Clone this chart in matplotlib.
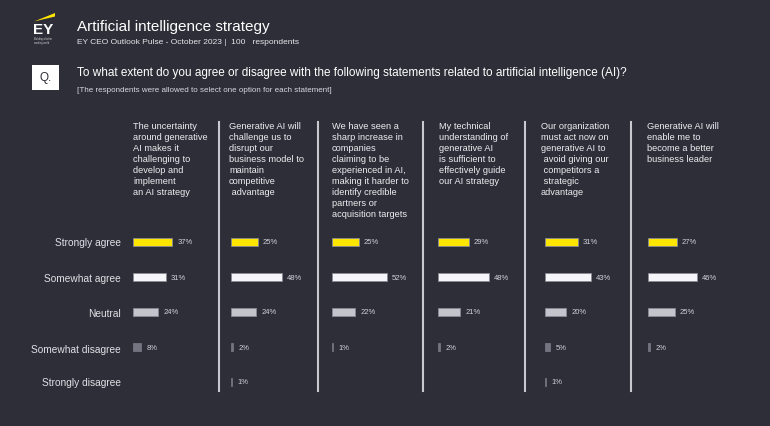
import matplotlib.pyplot as plt
from matplotlib.patches import Rectangle, Polygon

plt.rcParams['font.family'] = ['Liberation Sans', 'DejaVu Sans']

# Data
statements = [
    "The uncertainty\naround generative\nAI makes it\nchallenging to\ndevelop and\nimplement\nan AI strategy",
    "Generative AI will\nchallenge us to\ndisrupt our\nbusiness model to\nmaintain\ncompetitive\n advantage",
    "We have seen a\nsharp increase in\ncompanies\nclaiming to be\nexperienced in AI,\nmaking it harder to\nidentify credible\npartners or\nacquisition targets",
    "My technical\nunderstanding of\ngenerative AI\nis sufficient to\neffectively guide\nour AI strategy",
    "Our organization\nmust act now on\ngenerative AI to\n avoid giving our\n competitors a\n strategic\nadvantage",
    "Generative AI will\nenable me to\nbecome a better\nbusiness leader",
]
responses = ["Strongly agree", "Somewhat agree", "Neutral",
             "Somewhat disagree", "Strongly disagree"]
strongly_agree = [37, 25, 25, 29, 31, 27]
somewhat_agree = [31, 48, 52, 48, 43, 46]
neutral = [24, 24, 22, 21, 20, 25]
somewhat_disagree = [8, 2, 1, 2, 5, 2]
strongly_disagree = [0, 1, 0, 0, 1, 0]

bar_colors = ["#ffe600", "#f6f6fa", "#c4c4cd", "#747480", "#747480"]
bg = "#2e2e38"

W, H = 770, 427
fig = plt.figure(figsize=(7.7, 4.27), dpi=100, facecolor=bg)


def fx(x):
    return x / W


def fy(y):
    return 1 - y / H


# Header / logo
fig.patches.append(Polygon([(fx(34), fy(22.5)), (fx(55), fy(14)), (fx(55), fy(17.5))],
                           closed=True, transform=fig.transFigure,
                           facecolor="#ffe600", edgecolor="none"))
fig.text(fx(33), fy(30.5), "EY", color="white", fontsize=11, fontweight="bold",
         va="center", ha="left")
fig.text(fx(34), fy(41), "Building a better\nworking world", color="#cfcfd6",
         fontsize=1.8, va="center", ha="left", linespacing=1.0)

fig.text(fx(77), fy(27), "Artificial intelligence strategy", color="white",
         fontsize=11, va="center", ha="left")
fig.text(fx(77), fy(43), "EY CEO Outlook Pulse - October 2023 |  100   respondents",
         color="#e6e6ea", fontsize=6, va="center", ha="left")

fig.patches.append(Rectangle((fx(32), fy(91)), fx(27), 25 / H,
                             transform=fig.transFigure, facecolor="white",
                             edgecolor="none"))
fig.text(fx(45.5), fy(78), "Q.", color="#2e2e38", fontsize=8.5,
         va="center", ha="center")
fig.text(fx(77), fy(73), "To what extent do you agree or disagree with the following "
         "statements related to artificial intelligence (AI)?",
         color="white", fontsize=8.5, va="center", ha="left")
fig.text(fx(77), fy(90), "[The respondents were allowed to select one option for each statement]",
         color="#d8d8e0", fontsize=5.8, va="center", ha="left")

# Row labels
row_y = [243.5, 279, 314, 350, 383]
for lab, y in zip(responses, row_y):
    fig.text(fx(121), fy(y), lab, color="#e0e0e6", fontsize=7.3,
             va="center", ha="right")

# Panels
bar_left = [133, 231, 332, 438, 545, 648]
head_x = [133, 229, 332, 439, 541, 647]
dividers = [219, 318, 423, 525, 631]
px_per_pct = 1.06
ax_w = 82

for d in dividers:
    fig.add_artist(plt.Line2D([fx(d), fx(d)], [fy(123), fy(392)],
                              color="#c8c8ce", lw=1.5, transform=fig.transFigure))

series = [strongly_agree, somewhat_agree, neutral, somewhat_disagree, strongly_disagree]
for i in range(len(statements)):
    fig.text(fx(head_x[i]), fy(122), statements[i], color="#ececf0", fontsize=6.7,
             va="top", ha="left", linespacing=1.28)

    ax = fig.add_axes([fx(bar_left[i]), fy(400.5), ax_w / W, 175 / H])
    ax.set_facecolor("none")
    ax.set_xlim(0, ax_w / px_per_pct)
    ax.set_ylim(4.5, -0.5)
    ax.axis("off")
    for j, s in enumerate(series):
        v = s[i]
        if v == 0:
            continue
        ax.barh(j, v, height=0.23, color=bar_colors[j],
                edgecolor="#8a8a95" if j < 3 else bar_colors[j], linewidth=0.6)
        ax.annotate(f"{v}%", (v, j), xytext=(3.6, 0), textcoords="offset points",
                    color="#d0d0d8", fontsize=5.5, va="center", ha="left",
                    annotation_clip=False)

fig.savefig("out.png", dpi=100, facecolor=bg)
